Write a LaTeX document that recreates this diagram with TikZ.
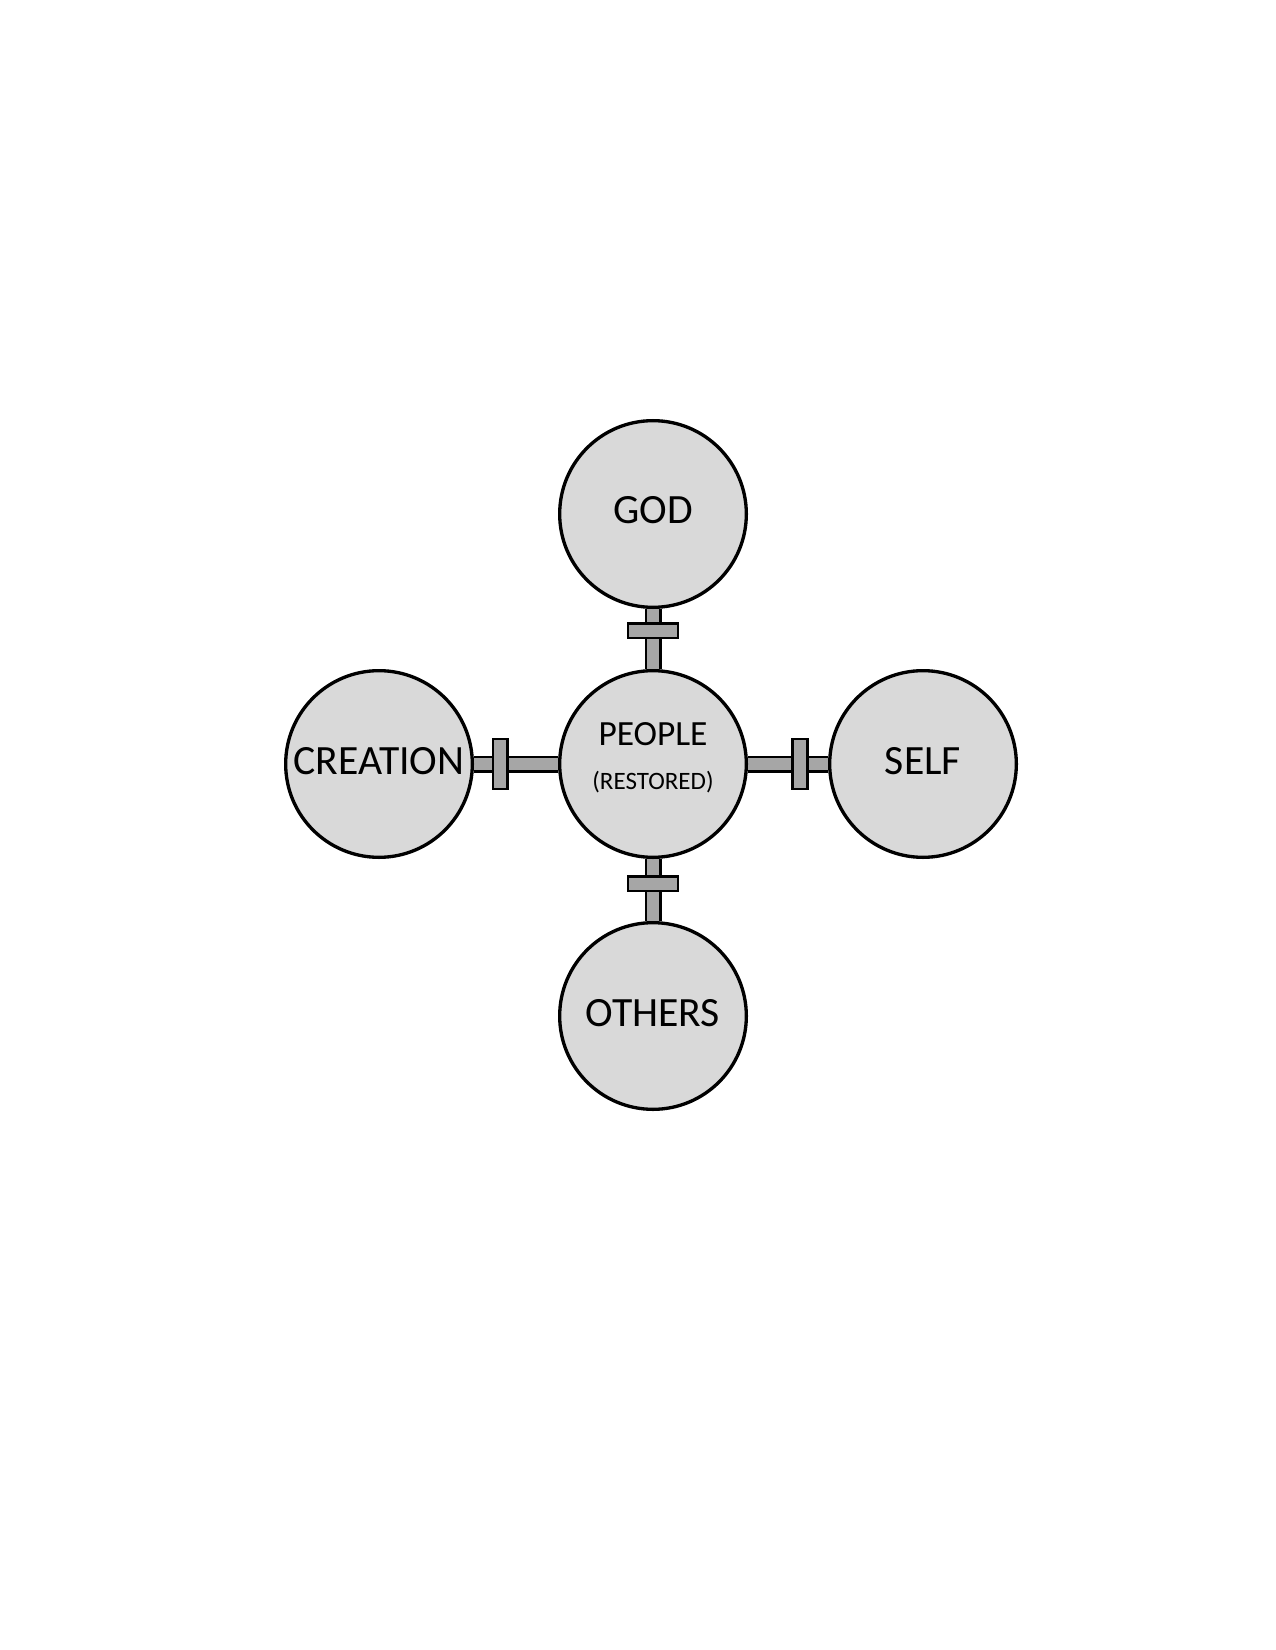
\documentclass[tikz,border=0pt]{standalone}
\usepackage{fontspec}
\setmainfont{Carlito}
\usetikzlibrary{calc,backgrounds}
\definecolor{circfill}{HTML}{D9D9D9}
\definecolor{barfill}{HTML}{A6A6A6}
\begin{document}
\begin{tikzpicture}[x=0.48pt,y=-0.48pt,
  ring/.style={circle, draw=black, line width=1.6pt, fill=circfill, minimum size=89.6pt, inner sep=0pt, align=center, font=\fontsize{20}{24}\selectfont},
  stem/.style={draw=black, line width=1.2pt, double=barfill, double distance=5.76pt},
  crossbar/.style={draw=black, line width=1.2pt, fill=barfill, rectangle, inner sep=0pt, minimum width=23.8pt, minimum height=7pt}]
\useasboundingbox (0,0) rectangle (1275,1650);

\node[ring] (god) at (653,514) {\raisebox{4pt}{GOD}};
\node[ring] (people) at (653,764) {\raisebox{0pt}[\height][\dimexpr\depth+6pt\relax]{\begin{tabular}{@{}c@{}}{\fontsize{17}{21}\selectfont PEOPLE}\\[-3pt]{\fontsize{12}{14}\selectfont (RESTORED)}\end{tabular}}};
\node[ring] (creation) at (379,764) {\raisebox{3pt}{CREATION}};
\node[ring] (self) at (923,764) {\raisebox{3pt}{SELF}};
\node[ring] (others) at (653,1016) {\raisebox{3pt}{OTHERS}};

\begin{scope}[on background layer]
\draw[stem] (god) -- (people);
\draw[stem] (people) -- (others);
\draw[stem] (people) -- (creation);
\draw[stem] (people) -- (self);
\end{scope}

\node[crossbar] (cbgod) at ($(god.south)!0.36!(people.north)$) {};
\node[crossbar] (cbothers) at ($(people.south)!0.4!(others.north)$) {};
\node[crossbar, rotate=90] (cbcreation) at ($(people.west)!0.69!(creation.east)$) {};
\node[crossbar, rotate=90] (cbself) at ($(people.east)!0.65!(self.west)$) {};
\end{tikzpicture}
\end{document}
